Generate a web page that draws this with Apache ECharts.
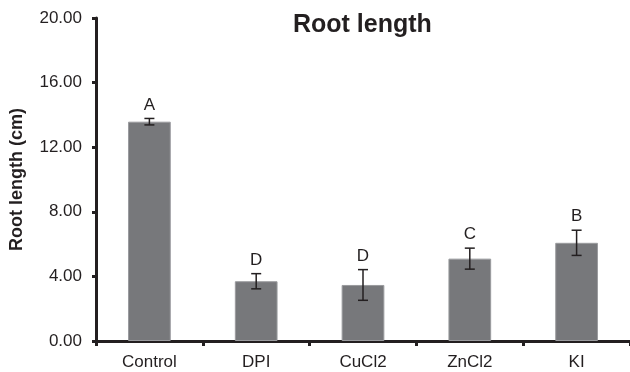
<!DOCTYPE html>
<html>
<head>
<meta charset="utf-8">
<script src="https://cdn.jsdelivr.net/npm/echarts@6/dist/echarts.min.js"></script>
<style>
  html, body { margin: 0; padding: 0; background: #fff; }
  #chart { width: 630px; height: 372px; }
</style>
</head>
<body>
<div id="chart"></div>
<script>
// Treatments and measured root length (mean, cm)
const categories = ['Control', 'DPI', 'CuCl2', 'ZnCl2', 'KI'];
const meanLength = [13.58, 3.70, 3.47, 5.10, 6.08];
// Standard error for each treatment (cm)
const errLength = [0.2, 0.47, 0.95, 0.65, 0.78];
// Significance group letters
const groupLetters = ['A', 'D', 'D', 'C', 'B'];
// Y-axis ticks
const yTicks = [0, 4, 8, 12, 16, 20];

const axisColor = '#231f20';
const font = 'Liberation Sans, Arial, sans-serif';

const chart = echarts.init(document.getElementById('chart'));

const errorData = meanLength.map((v, i) => [i, v - errLength[i], v + errLength[i]]);

chart.setOption({
  animation: false,
  title: {
    text: 'Root length',
    left: 293,
    top: 13,
    padding: 0,
    textStyle: { fontFamily: font, fontSize: 25, fontWeight: 'bold', color: axisColor }
  },
  grid: { left: 96, right: 0, top: 18, bottom: 31 },
  xAxis: {
    type: 'category',
    data: categories,
    axisLine: { lineStyle: { color: axisColor, width: 3 } },
    axisTick: { show: true, interval: 0, length: 5, lineStyle: { color: axisColor, width: 3 } },
    axisLabel: { fontFamily: font, fontSize: 17, color: axisColor, margin: 13 }
  },
  yAxis: {
    type: 'value',
    min: yTicks[0],
    max: yTicks[yTicks.length - 1],
    interval: 4,
    name: 'Root length (cm)',
    nameLocation: 'middle',
    nameGap: 70,
    nameTextStyle: { fontFamily: font, fontSize: 18, fontWeight: 'bold', color: axisColor },
    axisLine: { show: true, lineStyle: { color: axisColor, width: 3 } },
    axisTick: { show: true, length: 4, lineStyle: { color: axisColor, width: 3 } },
    splitLine: { show: false },
    axisLabel: {
      fontFamily: font, fontSize: 17, color: axisColor, margin: 14,
      formatter: v => v.toFixed(2)
    }
  },
  series: [
    {
      type: 'bar',
      data: meanLength,
      barWidth: '40%',
      itemStyle: { color: '#77787b', borderColor: '#9a9b9e', borderWidth: 1 }
    },
    {
      type: 'custom',
      data: errorData,
      z: 10,
      renderItem: function (params, api) {
        const x = api.coord([api.value(0), 0])[0];
        const lo = api.coord([api.value(0), api.value(1)])[1];
        const hi = api.coord([api.value(0), api.value(2)])[1];
        const hw = 5;
        const style = { stroke: axisColor, lineWidth: 1.5 };
        return {
          type: 'group',
          children: [
            { type: 'line', shape: { x1: x, y1: hi, x2: x, y2: lo }, style },
            { type: 'line', shape: { x1: x - hw, y1: hi, x2: x + hw, y2: hi }, style },
            { type: 'line', shape: { x1: x - hw, y1: lo, x2: x + hw, y2: lo }, style },
            {
              type: 'text',
              style: {
                text: groupLetters[params.dataIndex],
                x: x, y: hi - 5,
                textAlign: 'center', textVerticalAlign: 'bottom',
                fontFamily: font, fontSize: 17, fill: axisColor
              }
            }
          ]
        };
      }
    }
  ]
});
</script>
</body>
</html>
